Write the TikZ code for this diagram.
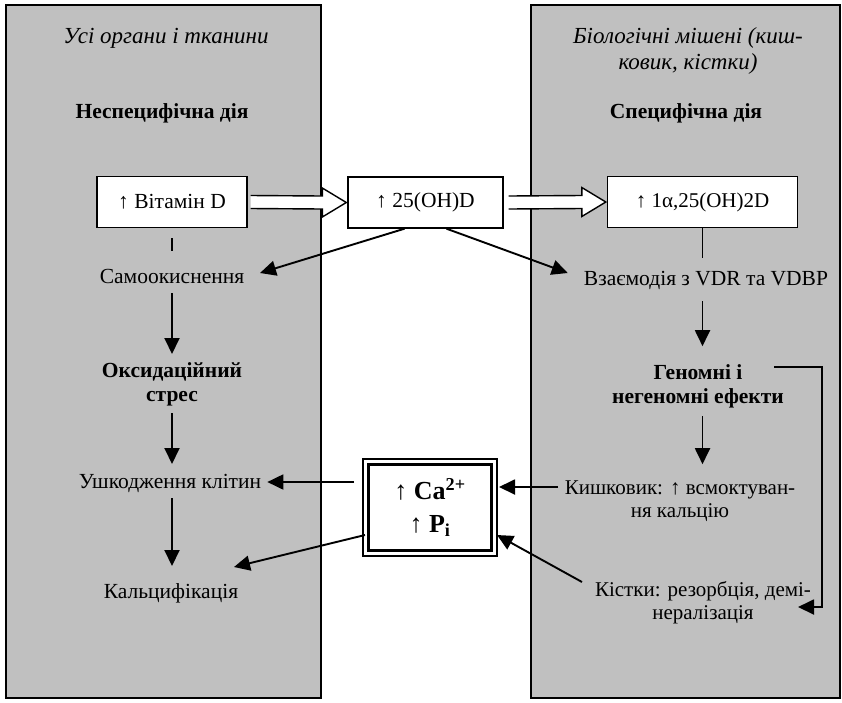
\documentclass[tikz,border=0pt]{standalone}
\usepackage{fontspec}
\setmainfont{Liberation Serif}
\usetikzlibrary{arrows.meta,calc}
\definecolor{panelgray}{RGB}{192,192,192}
\begin{document}
\begin{tikzpicture}[x=1pt,y=-1pt,
  font=\fontsize{21.5}{24}\selectfont,
  arr/.style={-{Triangle[length=16pt,width=15pt]}, line width=1.9pt},
  plain/.style={line width=1.9pt},
  box/.style={draw, line width=1.4pt, fill=white, minimum width=150pt, minimum height=51pt, inner sep=2pt},
  txt/.style={align=center, inner sep=1pt},
  ital/.style={txt, font=\fontsize{23}{26}\selectfont\itshape},
  bld/.style={txt, font=\fontsize{21.5}{24}\selectfont\bfseries},
  hollow/.style={fill=white, draw, line width=1.4pt, line join=miter}]
\useasboundingbox (0,0) rectangle (842,702);
\fill[white] (0,0) rectangle (842,702);
\draw[fill=panelgray, line width=1.6pt] (6,5) rectangle (321,698);
\draw[fill=panelgray, line width=1.6pt] (531,5) rectangle (840,698);

% headings
\node[ital] (t1) at (166,38) {Усі органи і тканини};
\node[bld] (t2) at (162,113) {Неспецифічна дія};
\node[ital] (t3) at (688,51) {Біологічні мішені (киш-\\ковик, кістки)};
\node[bld] (t4) at (686,113) {Специфічна дія};

% boxes
\node[box] (vd) at (172,202) {↑ Вітамін D};
\node[box, minimum width=155pt] (oh) at (425.5,202.5) {↑ 25(OH)D};
\node[box, minimum width=190pt, font=\fontsize{21}{24}\selectfont] (d2) at (702.5,202) {↑ 1α,25(OH)2D};

% left column
\node[txt] (so) at (172,276) {Самоокиснення};
\node[bld] (os) at (172,384) {Оксидаційний\\стрес};
\node[txt] (uk) at (170,483.5) {Ушкодження клітин};
\node[txt] (kf) at (171,593) {Кальцифікація};

% right column
\node[txt] (vz) at (706,280) {Взаємодія з VDR та VDBP};
\node[bld] (ge) at (698,386) {Геномні і\\негеномні ефекти};
\node[txt, font=\fontsize{21}{23}\selectfont] (ki) at (680,501) {Кишковик: ↑ всмоктуван-\\ня кальцію};
\node[txt, font=\fontsize{21}{23}\selectfont] (ks) at (703,603) {Кістки: резорбція, демі-\\нералізація};

% centre Ca box
\node[draw, line width=1.5pt, fill=white, outer sep=0pt,
      minimum width=134pt, minimum height=97pt, align=center,
      font=\fontsize{26}{33}\selectfont\bfseries] (ca) at (430,507.5)
  {↑ Ca\textsuperscript{2+}\\↑ P\textsubscript{i}};
\draw[line width=3pt] ($(ca.north west)+(5.5,5.5)$) rectangle ($(ca.south east)+(-5.5,-5.5)$);

% hollow arrows
\draw[hollow] ($(vd.east)+(3,-6.5)$) -- ($(oh.west)+(-25,-6.5)$) -- ($(oh.west)+(-25,-14.5)$)
  -- ($(oh.west)+(-1,0)$) -- ($(oh.west)+(-25,14.5)$) -- ($(oh.west)+(-25,6.5)$) -- ($(vd.east)+(3,6.5)$);
\draw[hollow] ($(oh.east)+(5,-6.5)$) -- ($(d2.west)+(-25,-6.5)$) -- ($(d2.west)+(-25,-14.5)$)
  -- ($(d2.west)+(-1,0)$) -- ($(d2.west)+(-25,14.5)$) -- ($(d2.west)+(-25,6.5)$) -- ($(oh.east)+(5,6.5)$);

% left connectors
\draw[plain] ($(vd.south)+(0,10)$) -- ($(so)+(0,-25)$);
\draw[arr] ($(so)+(0,17)$) -- ($(os)+(0,-30)$);
\draw[arr] ($(os)+(0,29)$) -- ($(os)+(0,80)$);
\draw[arr] ($(uk)+(2,14.5)$) -- ($(uk)+(2,82.5)$);

% right connectors
\draw[plain] (d2.south) -- ($(d2.south)+(0,30)$);
\draw[arr] ($(d2.south)+(0,73)$) -- ($(d2.south)+(0,118)$);
\draw[arr] ($(d2.south)+(0,188)$) -- ($(d2.south)+(0,236)$);
\draw[arr] ($(ge)+(76,-19)$) -- ++(48,0) |- ($(ks)+(95,4)$);

% diagonal from 25(OH)D
\draw[arr] ($(oh.south)+(-21,0)$) -- ($(so)+(88,-3)$);
\draw[arr] ($(oh.south)+(21,0)$) -- ($(vz.west)+(-15,-7)$);

% Ca box connectors
\draw[arr] ($(ca.west)+(-9,-25.5)$) -- ($(uk.east)+(5,-1.5)$);
\draw[arr] ($(ca.west)+(2,27.5)$) -- ($(kf)+(63,-26)$);
\draw[arr] ($(ki)+(-122,-14)$) -- ($(ca.east)+(2,-20.5)$);
\draw[arr] ($(ks)+(-121,-21)$) -- ($(ca.east)+(0,27.5)$);
\end{tikzpicture}
\end{document}
